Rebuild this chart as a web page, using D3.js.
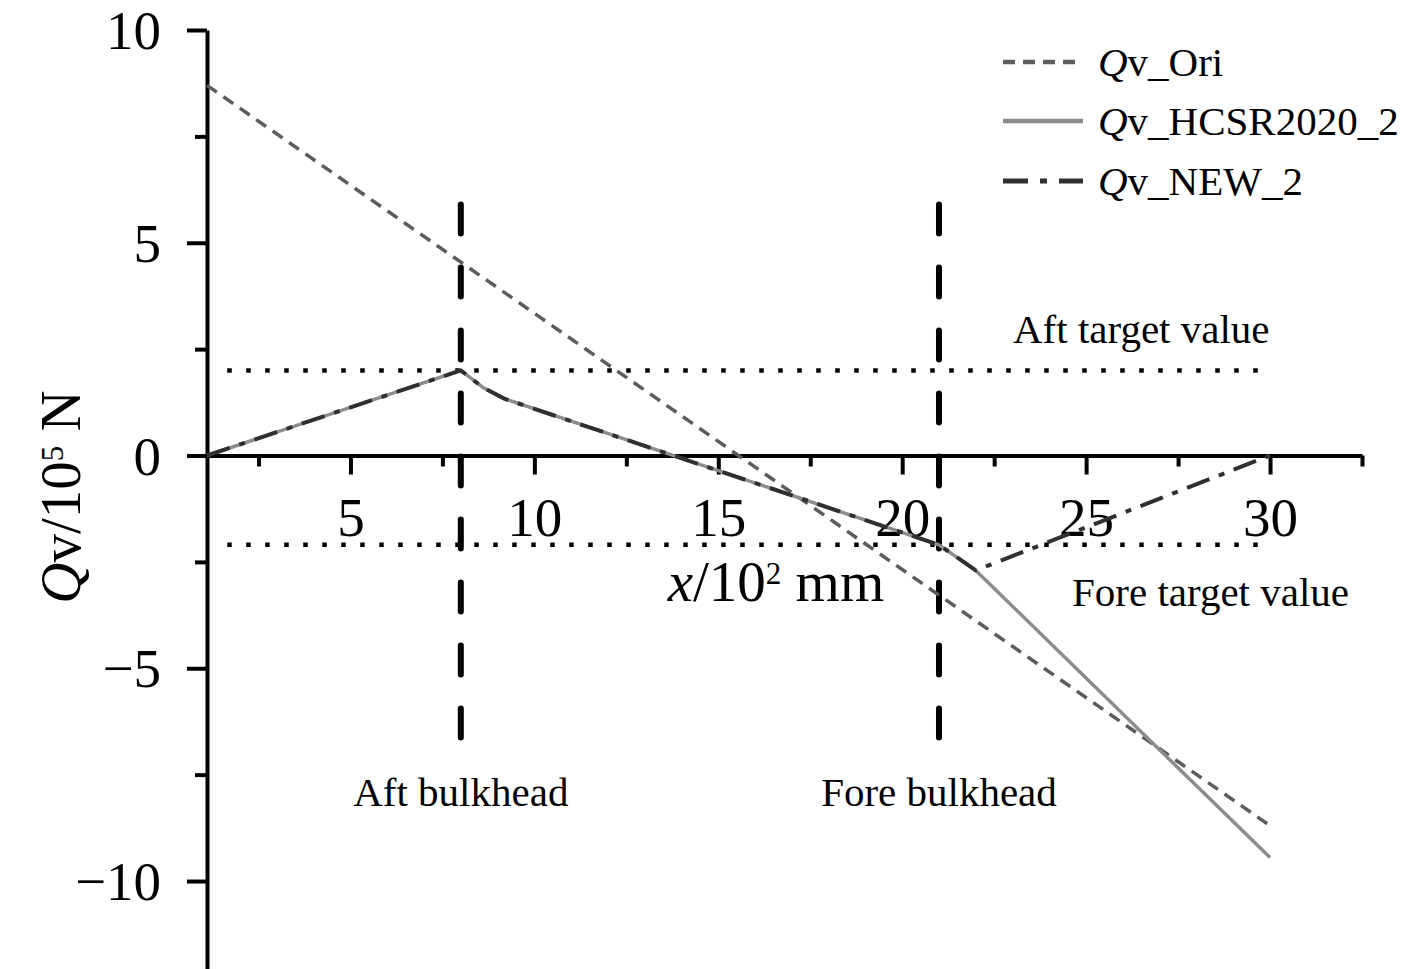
<!DOCTYPE html>
<html>
<head>
<meta charset="utf-8">
<script src="https://cdn.jsdelivr.net/npm/d3@7"></script>
<style>
    body { margin: 0; background: #fff; }
    svg text { font-family: "Liberation Serif", "Times New Roman", serif; fill: #000; }
</style>
</head>
<body>
<svg id="chart" width="1417" height="969"></svg>
<script>
// values (x in 10^2 mm, Qv in 10^5 N)
var oriX = [1.1, 30];
var oriY = [8.7, -8.7];
var hcsrX = [1.1, 8, 8.6, 9.2, 21, 22, 30];
var hcsrY = [0, 2, 1.6, 1.33, -2.1, -2.7, -9.45];
var newX = [1.1, 8, 8.6, 9.2, 21, 22, 30];
var newY = [0, 2, 1.6, 1.33, -2.1, -2.7, 0];

var bulkheads = [8, 21];
var bulkheadNames = ["Aft bulkhead", "Fore bulkhead"];
var bulkheadSpan = [5.9, -7.05];

var targets = [2, -2.1];
var targetNames = ["Aft target value", "Fore target value"];
var targetSpan = [1.65, 30];

var xTicks = [5, 10, 15, 20, 25, 30];
var xMinor = [2.5, 7.5, 12.5, 17.5, 22.5, 27.5, 32.5];
var yTicks = [-10, -5, 0, 5, 10];
var yMinor = [-7.5, -2.5, 2.5, 7.5];

var seriesNames = ["Ori", "HCSR2020_2", "NEW_2"];

var svg = d3.select("#chart");

var x = d3.scaleLinear().domain([1.1, 32.5]).range([207, 1362]);
var y = d3.scaleLinear().domain([-12.5, 10]).range([987.4, 30]);

function zip(xs, ys) {
    return xs.map(function (v, i) { return [v, ys[i]]; });
}

// axes
function styleAxis(g) {
    g.select(".domain").attr("stroke", "#000").attr("stroke-width", 4);
    g.selectAll(".tick line").attr("stroke", "#000").attr("stroke-width", 4);
    g.selectAll(".tick text").style("font-size", "55px");
}

var yAxis = svg.append("g").attr("transform", "translate(207,0)")
    .call(d3.axisLeft(y).tickValues(yTicks).tickSize(20).tickSizeOuter(0).tickPadding(26)
        .tickFormat(function (d) { return d < 0 ? "\u2212" + Math.abs(d) : d; }));
styleAxis(yAxis);
yAxis.selectAll(".tick text").attr("dy", "0.34em");

var yAxisMinor = svg.append("g").attr("transform", "translate(207,0)")
    .call(d3.axisLeft(y).tickValues(yMinor).tickSize(12).tickFormat(""));
styleAxis(yAxisMinor);
yAxisMinor.select(".domain").remove();

var xAxis = svg.append("g").attr("transform", "translate(0," + y(0) + ")")
    .call(d3.axisBottom(x).tickValues(xTicks).tickSize(19).tickSizeOuter(0).tickPadding(22));
styleAxis(xAxis);

var xAxisMinor = svg.append("g").attr("transform", "translate(0," + y(0) + ")")
    .call(d3.axisBottom(x).tickValues(xMinor).tickSize(11).tickFormat(""));
styleAxis(xAxisMinor);
xAxisMinor.select(".domain").remove();

// axis titles
var yTitle = svg.append("text")
    .attr("transform", "translate(80,497) rotate(-90)")
    .attr("text-anchor", "middle")
    .style("font-size", "57px");
yTitle.append("tspan").style("font-style", "italic").text("Q");
yTitle.append("tspan").text("v/10");
yTitle.append("tspan").attr("dy", -17).style("font-size", "31px").text("5");
yTitle.append("tspan").attr("dy", 17).text(" N");

var xTitle = svg.append("text")
    .attr("x", 776).attr("y", 601)
    .attr("text-anchor", "middle")
    .style("font-size", "57px");
xTitle.append("tspan").style("font-style", "italic").text("x");
xTitle.append("tspan").text("/10");
xTitle.append("tspan").attr("dy", -17).style("font-size", "31px").text("2");
xTitle.append("tspan").attr("dy", 17).text(" mm");

// target lines (dotted)
targets.forEach(function (t) {
    svg.append("line")
        .attr("x1", x(targetSpan[0])).attr("x2", x(targetSpan[1]))
        .attr("y1", y(t)).attr("y2", y(t))
        .attr("stroke", "#000").attr("stroke-width", 4.5)
        .attr("stroke-dasharray", "4.5,14.5");
});
svg.append("text").attr("x", 1013).attr("y", y(targets[0]) - 27)
    .style("font-size", "41px").text(targetNames[0]);
svg.append("text").attr("x", 1072).attr("y", y(targets[1]) + 61)
    .style("font-size", "41px").text(targetNames[1]);

// bulkheads (long dashes)
bulkheads.forEach(function (b, i) {
    svg.append("line")
        .attr("x1", x(b)).attr("x2", x(b))
        .attr("y1", y(bulkheadSpan[0])).attr("y2", y(bulkheadSpan[1]))
        .attr("stroke", "#000").attr("stroke-width", 6)
        .attr("stroke-linecap", "round")
        .attr("stroke-dasharray", "29,34");
    svg.append("text").attr("x", x(b)).attr("y", 806)
        .attr("text-anchor", "middle")
        .style("font-size", "41px").text(bulkheadNames[i]);
});

// series
var line = d3.line().x(function (d) { return x(d[0]); }).y(function (d) { return y(d[1]); });
var styles = [
    { color: "#5c5c5c", width: 3.5, dash: "12,8" },
    { color: "#8c8c8c", width: 3.5, dash: null },
    { color: "#303030", width: 4, dash: "24,10,6,10" }
];
var series = [zip(oriX, oriY), zip(hcsrX, hcsrY), zip(newX, newY)];

series.forEach(function (s, i) {
    svg.append("path").datum(s)
        .attr("d", line)
        .attr("fill", "none")
        .attr("stroke", styles[i].color)
        .attr("stroke-width", styles[i].width)
        .attr("stroke-linejoin", "round")
        .attr("stroke-dasharray", styles[i].dash);
});

// legend
var legendY = [62, 121, 181];
seriesNames.forEach(function (name, i) {
    svg.append("line")
        .attr("x1", 1003).attr("x2", 1083)
        .attr("y1", legendY[i]).attr("y2", legendY[i])
        .attr("stroke", styles[i].color)
        .attr("stroke-width", styles[i].width + 1)
        .attr("stroke-dasharray", i == 2 ? "25,12,7,12" : styles[i].dash);
    var t = svg.append("text").attr("x", 1098).attr("y", legendY[i] + 14)
        .style("font-size", "41px");
    t.append("tspan").style("font-style", "italic").text("Q");
    t.append("tspan").text("v_" + name);
});
</script>
</body>
</html>
